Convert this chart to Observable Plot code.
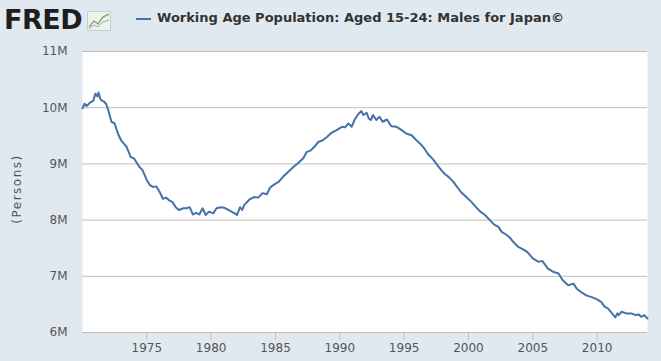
<!DOCTYPE html>
<html>
<head>
<meta charset="utf-8">
<script src="https://cdn.jsdelivr.net/npm/d3@7"></script>
<script src="https://cdn.jsdelivr.net/npm/@observablehq/plot@0.6"></script>
<style>
  html, body { margin: 0; padding: 0; background: #e1e9f0; }
  #wrap { width: 661px; height: 361px; position: relative; overflow: hidden; background: #e1e9f0; }
  #header { position: relative; height: 40px; }
  #logo { position: absolute; left: 4px; top: 4px; font-family: "DejaVu Sans", sans-serif; font-weight: 900; font-size: 27px; color: #1e1e1e; letter-spacing: -0.5px; }
  #icon { position: absolute; left: 87px; top: 11px; }
  #legline { position: absolute; left: 136px; top: 18px; width: 15px; height: 2px; background: #4572a7; }
  #title { position: absolute; left: 157px; top: 10px; font-family: "DejaVu Sans", Verdana, sans-serif; font-weight: bold; font-size: 13px; color: #333; white-space: nowrap; }
</style>
</head>
<body>
<div id="wrap">
  <div id="header">
    <div id="logo">FRED</div>
    <svg id="icon" width="24" height="20" viewBox="0 0 24 20">
      <rect x="0.5" y="0.5" width="23" height="19" fill="#eef2ee" stroke="#c8cfc8"/>
      <polyline points="2,16 7,10 11,13 16,6 22,3" fill="none" stroke="#7fb069" stroke-width="1.5"/>
      <polyline points="2,18 7,14 11,16 16,11 22,9" fill="none" stroke="#9aa9b8" stroke-width="1"/>
    </svg>
    <div id="legline"></div>
    <div id="title">Working Age Population: Aged 15-24: Males for Japan©</div>
  </div>
  <div id="chart"></div>
</div>
<script>
const months = [
"1970-01","1970-03","1970-05","1970-08","1970-11","1971-01","1971-03","1971-04","1971-06","1971-09",
"1971-11","1972-01","1972-04","1972-07","1972-10","1973-01","1973-04","1973-06","1973-10","1974-01",
"1974-06","1974-09","1975-01","1975-04","1975-07","1975-10","1976-01","1976-04","1976-07","1976-10",
"1977-01","1977-04","1977-07","1977-11","1978-02","1978-05","1978-08","1978-11","1979-02","1979-05",
"1979-08","1979-11","1980-03","1980-06","1980-10","1981-01","1981-05","1981-08","1981-11","1982-01",
"1982-04","1982-06","1982-08","1983-01","1983-05","1983-09","1984-01","1984-05","1984-08","1985-01",
"1985-04","1985-08","1986-01","1986-06","1986-10","1987-03","1987-06","1987-10","1988-01","1988-05",
"1988-09","1989-01","1989-05","1989-10","1990-03","1990-06","1990-09","1990-12","1991-03","1991-06",
"1991-09","1991-11","1992-02","1992-04","1992-06","1992-08","1992-11","1993-02","1993-05","1993-09",
"1994-01","1994-06","1994-10","1995-03","1995-08","1995-12","1996-04","1996-08","1996-11","1997-04",
"1997-08","1997-12","1998-03","1998-07","1998-11","1999-02","1999-06","1999-11","2000-04","2000-08",
"2000-12","2001-04","2001-09","2002-01","2002-05","2002-08","2003-01","2003-04","2003-07","2003-11",
"2004-04","2004-08","2005-01","2005-06","2005-10","2006-03","2006-08","2007-01","2007-05","2007-10",
"2008-03","2008-06","2008-10","2009-03","2009-08","2010-01","2010-05","2010-08","2010-11","2011-03",
"2011-06","2011-08","2011-09","2011-12","2012-04","2012-09","2013-01","2013-04","2013-06","2013-09",
"2013-12"
];
// Working age population, aged 15-24, males (millions of persons)
const valuesM = [
9.99,10.07,10.03,10.09,10.12,10.25,10.20,10.27,10.14,10.11,
10.07,9.96,9.75,9.72,9.54,9.42,9.35,9.31,9.12,9.10,
8.95,8.89,8.71,8.62,8.59,8.60,8.50,8.38,8.40,8.35,
8.32,8.23,8.18,8.21,8.21,8.23,8.10,8.13,8.10,8.21,
8.09,8.15,8.12,8.21,8.23,8.22,8.18,8.15,8.12,8.09,
8.23,8.18,8.27,8.37,8.41,8.40,8.48,8.46,8.58,8.65,
8.68,8.77,8.86,8.95,9.01,9.10,9.21,9.24,9.30,9.39,
9.42,9.48,9.55,9.60,9.66,9.65,9.72,9.66,9.79,9.88,
9.94,9.87,9.91,9.81,9.78,9.87,9.78,9.84,9.75,9.79,
9.67,9.66,9.61,9.54,9.51,9.43,9.36,9.27,9.18,9.08,
8.98,8.88,8.82,8.76,8.68,8.60,8.50,8.41,8.32,8.23,
8.15,8.10,8.00,7.92,7.88,7.79,7.73,7.68,7.61,7.53,
7.48,7.43,7.32,7.26,7.27,7.14,7.08,7.05,6.93,6.84,
6.87,6.78,6.72,6.66,6.63,6.59,6.54,6.46,6.43,6.34,
6.27,6.34,6.31,6.37,6.34,6.34,6.31,6.32,6.28,6.31,
6.25
];
const yTickValues = [6, 7, 8, 9, 10, 11];
const xTickYears = [1975, 1980, 1985, 1990, 1995, 2000, 2005, 2010];
const yLabel = "(Persons)";

const data = months.map((m, i) => ({date: new Date(m + "-01T00:00:00Z"), value: valuesM[i]}));
const xTicks = xTickYears.map(y => new Date(Date.UTC(y, 0, 1)));

const chart = Plot.plot({
  width: 661,
  height: 321,
  marginTop: 11,
  marginBottom: 29,
  marginLeft: 82,
  marginRight: 14,
  style: {background: "transparent", fontFamily: "DejaVu Sans, Verdana, sans-serif", fontSize: "12px", color: "#555", overflow: "visible"},
  x: {type: "utc", domain: [new Date(Date.UTC(1970, 0, 1)), new Date(Date.UTC(2013, 11, 1))]},
  y: {domain: [6, 11]},
  marks: [
    Plot.frame({fill: "white", stroke: null}),
    Plot.ruleY(yTickValues, {stroke: "#c0c0c0", strokeWidth: 1}),
    Plot.axisX(xTicks, {tickSize: 8, tickPadding: 3, stroke: "#c0c0c0", fill: "#555", tickFormat: d => String(d.getUTCFullYear()), label: null}),
    Plot.axisY(yTickValues, {tickSize: 0, tickPadding: 15, fill: "#555", tickFormat: d => d + "M", label: null}),
    Plot.text([yLabel], {frameAnchor: "left", textAnchor: "middle", dx: -65, dy: -3, rotate: -90, text: d => d, fill: "#555", fontSize: 12}),
    Plot.lineY(data, {x: "date", y: "value", stroke: "#4572a7", strokeWidth: 2})
  ]
});
d3.select(chart).selectAll("text").filter(function() { return this.textContent === yLabel; }).style("letter-spacing", "1.5px");
document.getElementById("chart").appendChild(chart);
</script>
</body>
</html>
